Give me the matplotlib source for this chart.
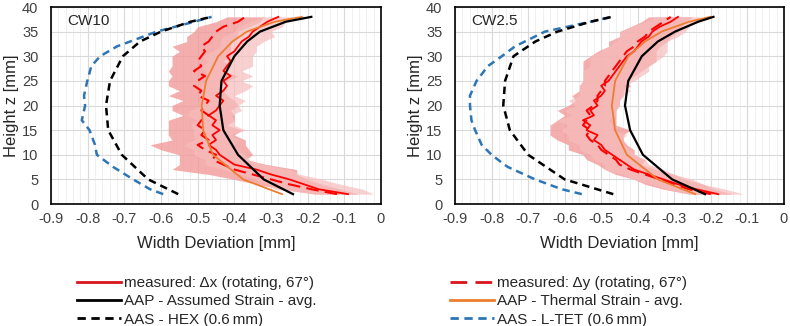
"""
Width deviation over height for CW10 and CW2.5 specimens.
"""

import matplotlib
matplotlib.use('Agg')
import numpy as np
import matplotlib.pyplot as plt
from matplotlib.lines import Line2D

plt.rcParams['font.family'] = ['Liberation Sans', 'DejaVu Sans']

# ---- data ----
panel_titles = ['CW10', 'CW2.5']

z_meas = list(range(2, 39))

# CW10 measured
cw10_dx = [-0.09, -0.17, -0.21, -0.25, -0.30, -0.34, -0.40, -0.42, -0.44, -0.45,
           -0.47, -0.45, -0.46, -0.44, -0.46, -0.45, -0.47, -0.45, -0.44, -0.43,
           -0.45, -0.43, -0.42, -0.43, -0.41, -0.43, -0.42, -0.41, -0.42, -0.40,
           -0.39, -0.38, -0.36, -0.35, -0.33, -0.31, -0.28]
cw10_dx_sd = [0.07, 0.12, 0.10, 0.09, 0.08, 0.09, 0.08, 0.06, 0.07, 0.06,
              0.07, 0.06, 0.05, 0.07, 0.06, 0.05, 0.06, 0.07, 0.05, 0.06,
              0.05, 0.06, 0.07, 0.05, 0.06, 0.05, 0.07, 0.06, 0.07, 0.06,
              0.05, 0.06, 0.07, 0.05, 0.06, 0.05, 0.04]
cw10_dy = [-0.12, -0.19, -0.25, -0.30, -0.35, -0.40, -0.43, -0.46, -0.45, -0.48,
           -0.50, -0.47, -0.49, -0.48, -0.50, -0.49, -0.47, -0.49, -0.48, -0.47,
           -0.50, -0.49, -0.51, -0.50, -0.48, -0.51, -0.49, -0.50, -0.49, -0.48,
           -0.49, -0.47, -0.46, -0.45, -0.43, -0.39, -0.37]
cw10_dy_sd = [0.06, 0.08, 0.09, 0.10, 0.12, 0.17, 0.12, 0.09, 0.10, 0.12,
              0.13, 0.10, 0.09, 0.10, 0.08, 0.09, 0.07, 0.08, 0.09, 0.07,
              0.08, 0.06, 0.07, 0.08, 0.09, 0.07, 0.08, 0.07, 0.08, 0.07,
              0.08, 0.06, 0.07, 0.06, 0.07, 0.06, 0.05]

# CW2.5 measured
cw25_dx = [-0.18, -0.24, -0.29, -0.33, -0.37, -0.41, -0.43, -0.45, -0.47, -0.49,
           -0.50, -0.52, -0.51, -0.54, -0.53, -0.55, -0.52, -0.53, -0.51, -0.52,
           -0.50, -0.49, -0.50, -0.48, -0.47, -0.46, -0.45, -0.44, -0.43, -0.41,
           -0.40, -0.39, -0.37, -0.36, -0.34, -0.31, -0.29]
cw25_dx_sd = [0.07, 0.08, 0.07, 0.08, 0.07, 0.08, 0.06, 0.07, 0.06, 0.07,
              0.06, 0.07, 0.08, 0.07, 0.06, 0.07, 0.06, 0.07, 0.06, 0.07,
              0.06, 0.07, 0.06, 0.07, 0.08, 0.09, 0.08, 0.09, 0.10, 0.09,
              0.08, 0.07, 0.08, 0.09, 0.08, 0.07, 0.06]
cw25_dy = [-0.20, -0.26, -0.30, -0.34, -0.38, -0.42, -0.45, -0.46, -0.48, -0.50,
           -0.51, -0.53, -0.54, -0.53, -0.55, -0.54, -0.53, -0.54, -0.52, -0.51,
           -0.51, -0.50, -0.49, -0.49, -0.48, -0.47, -0.46, -0.45, -0.44, -0.43,
           -0.41, -0.40, -0.38, -0.37, -0.35, -0.33, -0.31]
cw25_dy_sd = [0.06, 0.07, 0.08, 0.07, 0.08, 0.07, 0.06, 0.08, 0.07, 0.09,
              0.08, 0.09, 0.10, 0.11, 0.09, 0.08, 0.07, 0.08, 0.07, 0.06,
              0.07, 0.06, 0.07, 0.06, 0.07, 0.08, 0.09, 0.10, 0.09, 0.08,
              0.07, 0.08, 0.07, 0.08, 0.07, 0.06, 0.06]

# simulations
z_sim = [2, 5, 10, 15, 20, 25, 30, 33, 35, 37, 38]
cw10_assumed = [-0.24, -0.32, -0.39, -0.43, -0.44, -0.435, -0.40, -0.365, -0.33, -0.26, -0.19]
cw10_thermal = [-0.27, -0.376, -0.458, -0.485, -0.489, -0.477, -0.444, -0.405, -0.366, -0.29, -0.216]
cw25_assumed = [-0.216, -0.306, -0.386, -0.421, -0.435, -0.426, -0.389, -0.345, -0.298, -0.235, -0.193]
cw25_thermal = [-0.243, -0.345, -0.43, -0.462, -0.471, -0.462, -0.426, -0.38, -0.335, -0.26, -0.202]

z_hex = [2, 5, 10, 15, 20, 25, 30, 33, 35, 37, 38]
cw10_hex = [-0.553, -0.635, -0.707, -0.744, -0.75, -0.739, -0.704, -0.657, -0.6, -0.52, -0.462]
cw25_hex = [-0.467, -0.60, -0.70, -0.75, -0.768, -0.763, -0.74, -0.68, -0.62, -0.53, -0.471]

z_tet = [2, 3, 5, 7.5, 8, 10, 12, 15, 17, 20, 22, 25, 28, 30, 32, 35, 37, 38]
cw10_tet = [-0.594, -0.63, -0.676, -0.73, -0.739, -0.775, -0.78, -0.795, -0.816, -0.807,
            -0.81, -0.801, -0.79, -0.766, -0.72, -0.612, -0.51, -0.462]
cw25_tet = [-0.553, -0.608, -0.681, -0.755, -0.765, -0.80, -0.827, -0.845, -0.855, -0.859,
            -0.859, -0.841, -0.81, -0.772, -0.736, -0.654, -0.53, -0.471]

legend_labels = ['measured: \u0394x (rotating, 67\u00b0)', 'AAP - Assumed Strain - avg.',
                 'AAS - HEX (0.6\u2009mm)', 'measured: \u0394y (rotating, 67\u00b0)',
                 'AAP - Thermal Strain - avg.', 'AAS - L-TET (0.6\u2009mm)']

RED = '#ff0000'
ORANGE = '#ed7d31'
BLUE = '#2e75b6'
DASH_LONG = (0, (6, 3))
DASH_SHORT = (0, (3, 2))

panels = [
    (cw10_dx, cw10_dx_sd, cw10_dy, cw10_dy_sd, cw10_assumed, cw10_thermal, cw10_hex, cw10_tet),
    (cw25_dx, cw25_dx_sd, cw25_dy, cw25_dy_sd, cw25_assumed, cw25_thermal, cw25_hex, cw25_tet),
]

fig = plt.figure(figsize=(7.9, 3.26), dpi=100)
ax_rects = [[51 / 790, 122 / 326, 330 / 790, 197 / 326],
            [455 / 790, 122 / 326, 329 / 790, 197 / 326]]

for rect, title, (dx, dx_sd, dy, dy_sd, assumed, thermal, hex_, tet) in zip(ax_rects, panel_titles, panels):
    ax = fig.add_axes(rect)
    dx = np.array(dx)
    dy = np.array(dy)
    dx_sd = np.array(dx_sd)
    dy_sd = np.array(dy_sd)

    # scatter bands of the measurements
    ax.fill_betweenx(z_meas, dy - dy_sd, dy + dy_sd, color='#f39a9a', alpha=0.8, lw=0)
    ax.fill_betweenx(z_meas, dx - dx_sd, dx + dx_sd, color='#f7bcbc', alpha=0.7, lw=0)

    ax.plot(tet, z_tet, color=BLUE, lw=1.8, linestyle=DASH_SHORT)
    ax.plot(hex_, z_hex, color='black', lw=1.8, linestyle=DASH_SHORT)
    ax.plot(dy, z_meas, color=RED, lw=1.5, linestyle=DASH_LONG)
    ax.plot(dx, z_meas, color=RED, lw=1.3)
    ax.plot(thermal, z_sim, color=ORANGE, lw=1.3)
    ax.plot(assumed, z_sim, color='black', lw=1.6)

    ax.set_xlim(-0.9, 0)
    ax.set_ylim(0, 40)
    ax.set_xticks(np.arange(-0.9, 0.01, 0.1))
    ax.set_xticklabels(['-0.9', '-0.8', '-0.7', '-0.6', '-0.5', '-0.4', '-0.3', '-0.2', '-0.1', '0'])
    ax.set_yticks(range(0, 41, 5))
    ax.set_xticks(np.arange(-0.9, 0.001, 0.02), minor=True)
    ax.grid(which='major', color='#d9d9d9', lw=0.8)
    ax.grid(which='minor', axis='x', color='#eeeeee', lw=0.6)
    ax.set_axisbelow(True)
    ax.tick_params(which='both', length=0, labelsize=10.5, colors='#404040')
    ax.tick_params(axis='x', pad=6)
    ax.tick_params(axis='y', pad=9)
    for sp in ax.spines.values():
        sp.set_color('black')
        sp.set_linewidth(1.2)

    ax.set_xlabel('Width Deviation [mm]', fontsize=12, color='#262626', labelpad=7)
    ax.set_ylabel('Height z [mm]', fontsize=12, color='#262626', labelpad=2)
    ax.text(0.05, 0.965, title, transform=ax.transAxes, ha='left', va='top',
            fontsize=11, color='#262626')

# legend split into two columns below the panels
handles = [
    Line2D([], [], color='#d9141c', lw=2),
    Line2D([], [], color='black', lw=2),
    Line2D([], [], color='black', lw=2, linestyle=DASH_SHORT),
    Line2D([], [], color='#d9141c', lw=2, linestyle=DASH_LONG),
    Line2D([], [], color=ORANGE, lw=2),
    Line2D([], [], color=BLUE, lw=2, linestyle=DASH_SHORT),
]
for i, x0 in enumerate([77 / 790, 450 / 790]):
    leg = fig.legend(handles[3 * i:3 * i + 3], legend_labels[3 * i:3 * i + 3],
                     loc='upper left', bbox_to_anchor=(x0, 1 - 276 / 326),
                     frameon=False, fontsize=11, handlelength=2.9, handletextpad=0.15,
                     labelspacing=0.28, borderpad=0, borderaxespad=0)
    for t in leg.get_texts():
        t.set_color('#262626')

fig.savefig('out.png', dpi=100)
